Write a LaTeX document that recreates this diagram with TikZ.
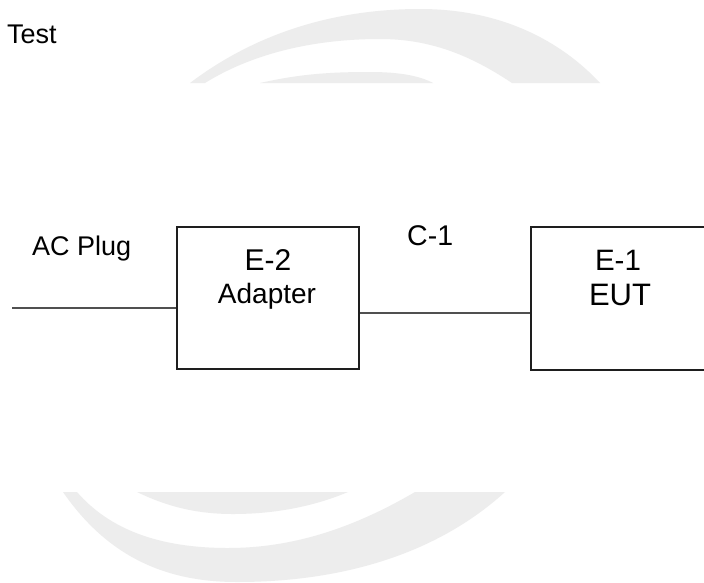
\documentclass[tikz,border=0pt]{standalone}
\usepackage{fontspec}
\setmainfont{Liberation Sans}
\definecolor{wm}{RGB}{237,237,237}
\definecolor{wire}{RGB}{80,80,80}
\definecolor{edge}{RGB}{30,30,30}
\begin{document}
\begin{tikzpicture}[x=1pt,y=-1pt,
  box/.style={draw=edge,line width=2pt,inner sep=0pt,rectangle},
  wireline/.style={draw=wire,line width=2pt},
  lbl/.style={inner sep=0pt,text=black},
  fs/.style={font=\fontsize{#1}{#1}\selectfont}]
\clip (0,0) rectangle (704,582);
\fill[white] (0,0) rectangle (704,582);
% watermark pieces
\fill[wm] (190,83) .. controls (260,30) and (340,9) .. (420,9)
  .. controls (500,9) and (560,40) .. (600,83) -- (512,83)
  .. controls (470,55) and (430,39) .. (380,39)
  .. controls (310,39) and (250,55) .. (205,83) -- cycle;
\fill[wm] (260,83) .. controls (300,74) and (330,72) .. (370,72)
  .. controls (400,72) and (420,76) .. (433,83) -- cycle;
\fill[wm] (63,492) .. controls (110,560) and (170,582) .. (237,582)
  .. controls (330,582) and (430,560) .. (505,492) -- (415,492)
  .. controls (350,530) and (290,548) .. (228,548)
  .. controls (160,548) and (110,530) .. (77,492) -- cycle;
\fill[wm] (137,492) .. controls (170,508) and (200,514) .. (233,514)
  .. controls (270,514) and (310,508) .. (348,492) -- cycle;
% texts
\node[lbl,fs=27,anchor=base west] (title) at (7,43) {Test};
\node[lbl,fs=27,anchor=base west] (plug) at (32,255) {AC Plug};
\node[lbl,fs=28.5,anchor=base west] (c1) at (407,245) {C-1};
% boxes
\node[box,minimum width=182,minimum height=142] (box1) at (268,298) {};
\node[box,minimum width=200,minimum height=143] (box2) at (631,298.5) {};
\node[lbl,fs=30,anchor=base] (e2) at (268,270) {E-2};
\node[lbl,fs=28,anchor=base] (adapter) at (267,303) {Adapter};
\node[lbl,fs=29.5,anchor=base] (e1) at (618,270) {E-1};
\node[lbl,fs=31,anchor=base] (eut) at (620,305) {EUT};
% connectors
\coordinate (plugend) at (12,308);
\draw[wireline] (plugend) -- (plugend -| box1.west);
\draw[wireline] (box1.east |- 0,313) -- (box2.west |- 0,313);
\end{tikzpicture}
\end{document}
